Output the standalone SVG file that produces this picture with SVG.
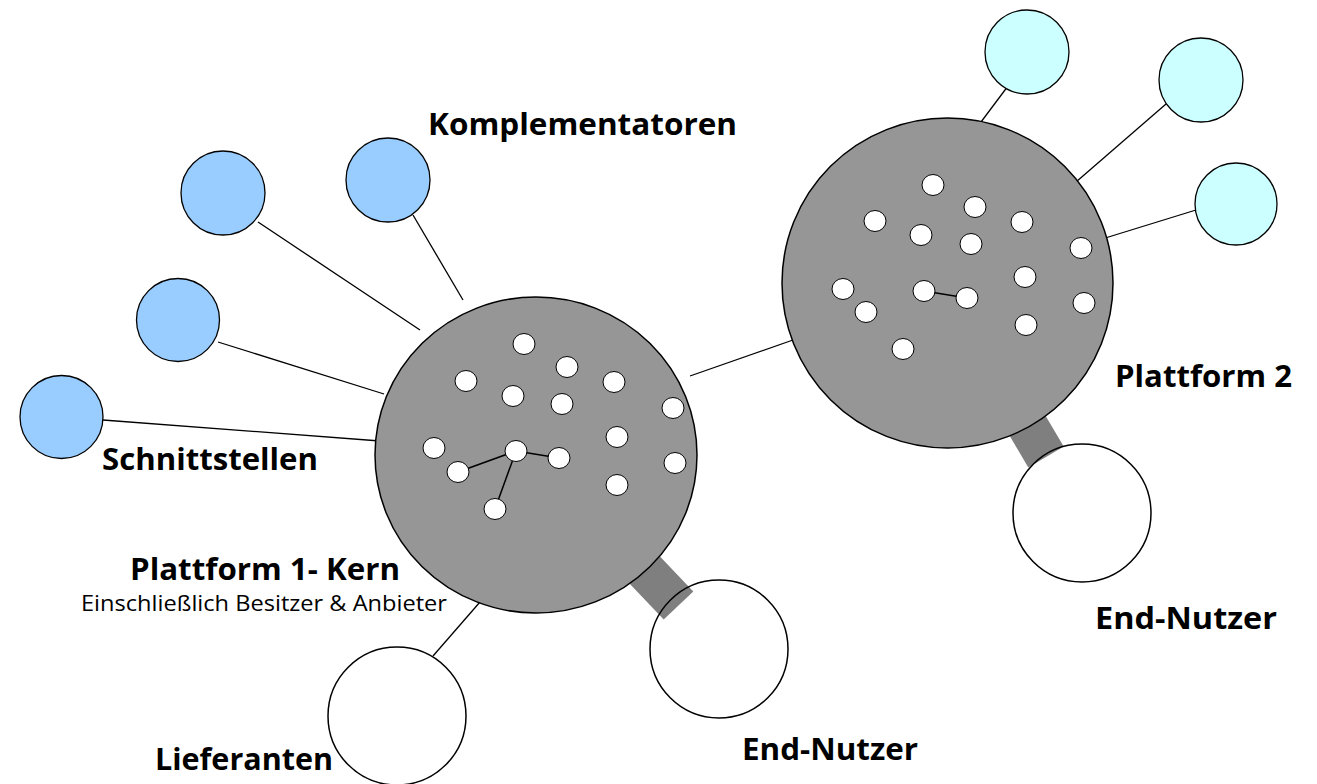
<svg xmlns="http://www.w3.org/2000/svg" width="1317" height="784" viewBox="0 0 1317 784">
  <style>
    .line { stroke: #000; stroke-width: 1.3; fill: none; }
    .bar { fill: #7f7f7f; stroke: none; }
    .platform { fill: #969696; stroke: #000; stroke-width: 1.5; }
    .dot { fill: #fff; stroke: #000; stroke-width: 1; }
    .dotlink { stroke: #000; stroke-width: 1.5; }
    .comp { fill: #99ccff; stroke: #000; stroke-width: 1.3; }
    .ext { fill: #ccffff; stroke: #000; stroke-width: 1.3; }
    .user { fill: none; stroke: #000; stroke-width: 1.5; }
    .label { font-family: "Open Sans", "Noto Sans", sans-serif; font-weight: bold; font-size: 30px; fill: #000; }
    .sub { font-family: "Open Sans", "Noto Sans", sans-serif; font-size: 22px; fill: #000; }
  </style>

  <!-- links between nodes -->
  <g id="connectors">
    <line class="line" x1="690" y1="376" x2="793" y2="340"/>
    <line class="line" x1="103" y1="420" x2="380" y2="441"/>
    <line class="line" x1="218" y1="342" x2="384" y2="394"/>
    <line class="line" x1="258" y1="222" x2="420" y2="330"/>
    <line class="line" x1="413" y1="215" x2="463" y2="300"/>
    <line class="line" x1="433" y1="656" x2="480" y2="602"/>
    <line class="line" x1="1008" y1="86" x2="978" y2="126"/>
    <line class="line" x1="1166" y1="104" x2="1076" y2="182"/>
    <line class="line" x1="1196" y1="210" x2="1102" y2="239"/>
    <polygon class="bar" points="693.3,591.4 663.7,619.6 585.2,537.1 614.8,508.9"/>
    <polygon class="bar" points="1063.7,446.6 1028.3,467.4 997.9,415.7 1033.3,394.9"/>
  </g>

  <g id="platform1">
    <ellipse class="platform" cx="536" cy="455" rx="161" ry="158"/>
    <line class="dotlink" x1="516" y1="451" x2="458" y2="472"/>
    <line class="dotlink" x1="516" y1="451" x2="559" y2="458"/>
    <line class="dotlink" x1="516" y1="451" x2="495" y2="509"/>
    <ellipse class="dot" cx="524" cy="344" rx="11" ry="10.5"/>
    <ellipse class="dot" cx="567" cy="367" rx="11" ry="10.5"/>
    <ellipse class="dot" cx="466" cy="381" rx="11" ry="10.5"/>
    <ellipse class="dot" cx="513" cy="396" rx="11" ry="10.5"/>
    <ellipse class="dot" cx="562" cy="404" rx="11" ry="10.5"/>
    <ellipse class="dot" cx="614" cy="382" rx="11" ry="10.5"/>
    <ellipse class="dot" cx="673" cy="408" rx="11" ry="10.5"/>
    <ellipse class="dot" cx="617" cy="437" rx="11" ry="10.5"/>
    <ellipse class="dot" cx="434" cy="448" rx="11" ry="10.5"/>
    <ellipse class="dot" cx="516" cy="451" rx="11" ry="10.5"/>
    <ellipse class="dot" cx="559" cy="458" rx="11" ry="10.5"/>
    <ellipse class="dot" cx="458" cy="472" rx="11" ry="10.5"/>
    <ellipse class="dot" cx="675" cy="463" rx="11" ry="10.5"/>
    <ellipse class="dot" cx="617" cy="485" rx="11" ry="10.5"/>
    <ellipse class="dot" cx="495" cy="509" rx="11" ry="10.5"/>
    <text class="label" x="130" y="580" textLength="270" lengthAdjust="spacingAndGlyphs">Plattform 1- Kern</text>
    <text class="sub" x="81" y="611" textLength="366" lengthAdjust="spacingAndGlyphs">Einschließlich Besitzer &amp; Anbieter</text>
  </g>

  <g id="platform2">
    <ellipse class="platform" cx="947.5" cy="283" rx="165.5" ry="165"/>
    <line class="dotlink" x1="924" y1="291" x2="967" y2="298"/>
    <ellipse class="dot" cx="933" cy="185" rx="11" ry="10.5"/>
    <ellipse class="dot" cx="975" cy="207" rx="11" ry="10.5"/>
    <ellipse class="dot" cx="875" cy="221" rx="11" ry="10.5"/>
    <ellipse class="dot" cx="1022" cy="222" rx="11" ry="10.5"/>
    <ellipse class="dot" cx="921" cy="235" rx="11" ry="10.5"/>
    <ellipse class="dot" cx="971" cy="244" rx="11" ry="10.5"/>
    <ellipse class="dot" cx="1081" cy="248" rx="11" ry="10.5"/>
    <ellipse class="dot" cx="1025" cy="277" rx="11" ry="10.5"/>
    <ellipse class="dot" cx="843" cy="289" rx="11" ry="10.5"/>
    <ellipse class="dot" cx="924" cy="291" rx="11" ry="10.5"/>
    <ellipse class="dot" cx="967" cy="298" rx="11" ry="10.5"/>
    <ellipse class="dot" cx="866" cy="312" rx="11" ry="10.5"/>
    <ellipse class="dot" cx="1084" cy="303" rx="11" ry="10.5"/>
    <ellipse class="dot" cx="1026" cy="325" rx="11" ry="10.5"/>
    <ellipse class="dot" cx="903" cy="349" rx="11" ry="10.5"/>
    <text class="label" x="1115" y="387" textLength="177" lengthAdjust="spacingAndGlyphs">Plattform 2</text>
  </g>

  <g id="interface-1">
    <circle class="comp" cx="61.5" cy="417" r="41.5"/>
    <text class="label" x="102" y="470" textLength="216" lengthAdjust="spacingAndGlyphs">Schnittstellen</text>
  </g>
  <g id="interface-2">
    <circle class="comp" cx="178" cy="320" r="41.5"/>
  </g>
  <g id="complement-1">
    <circle class="comp" cx="223" cy="193" r="42"/>
  </g>
  <g id="complement-2">
    <circle class="comp" cx="388" cy="180" r="42"/>
    <text class="label" x="428" y="135" textLength="309" lengthAdjust="spacingAndGlyphs">Komplementatoren</text>
  </g>

  <g id="external-1">
    <circle class="ext" cx="1027" cy="52" r="42"/>
  </g>
  <g id="external-2">
    <circle class="ext" cx="1201" cy="80" r="42"/>
  </g>
  <g id="external-3">
    <circle class="ext" cx="1236" cy="204" r="41"/>
  </g>

  <g id="suppliers">
    <circle class="user" cx="397" cy="716" r="69"/>
    <text class="label" x="155" y="770" textLength="178" lengthAdjust="spacingAndGlyphs">Lieferanten</text>
  </g>
  <g id="end-users-1">
    <circle class="user" cx="719" cy="649" r="69"/>
    <text class="label" x="742" y="760" textLength="176" lengthAdjust="spacingAndGlyphs">End-Nutzer</text>
  </g>
  <g id="end-users-2">
    <circle class="user" cx="1082" cy="513" r="69"/>
    <text class="label" x="1095" y="629" textLength="182" lengthAdjust="spacingAndGlyphs">End-Nutzer</text>
  </g>
</svg>
